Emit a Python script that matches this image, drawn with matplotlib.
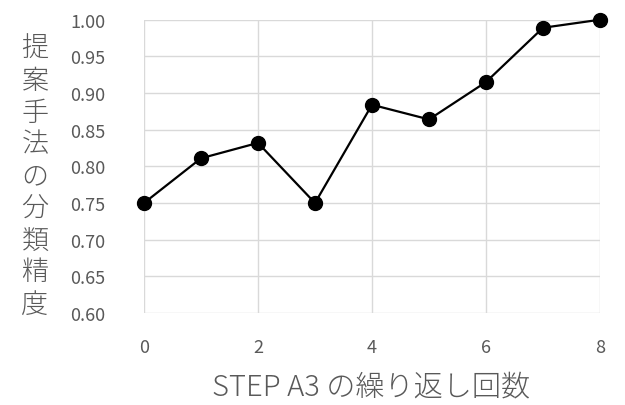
import numpy as np
import matplotlib
matplotlib.use('Agg')
import matplotlib.pyplot as plt

plt.rcParams['font.family'] = ['Noto Sans CJK JP', 'DejaVu Sans']

# data
iterations = [0, 1, 2, 3, 4, 5, 6, 7, 8]
accuracy = [0.750, 0.811, 0.832, 0.750, 0.884, 0.864, 0.915, 0.989, 1.000]
x_ticks = [0, 2, 4, 6, 8]
y_ticks = [0.60, 0.65, 0.70, 0.75, 0.80, 0.85, 0.90, 0.95, 1.00]

xlabel = 'STEP A3 の繰り返し回数'
ylabel = '提案手法の分類精度'

grey_text = '#595959'
grid_col = '#d9d9d9'

fig = plt.figure(figsize=(6.25, 4.06), dpi=100)
ax = fig.add_axes([0.2304, 0.2266, 0.7296, 0.7224])

ax.plot(iterations, accuracy, color='black', linewidth=1.6, marker='o',
        markersize=10, clip_on=False, zorder=3)

ax.set_xlim(0, 8)
ax.set_ylim(0.60, 1.00)
ax.set_xticks(x_ticks)
ax.set_yticks(y_ticks)
ax.set_xticklabels([str(t) for t in x_ticks])
ax.set_yticklabels(['%.2f' % t for t in y_ticks])

ax.grid(True, color=grid_col, linewidth=1.0)
ax.set_axisbelow(True)
for s in ax.spines.values():
    s.set_visible(False)

ax.tick_params(length=0, labelsize=13, labelcolor=grey_text)
ax.tick_params(axis='y', pad=28)
ax.tick_params(axis='x', pad=18)

# vertical stacked y label
fig.text(0.056, 0.565, '\n'.join(ylabel), ha='center', va='center',
         fontsize=19.5, color=grey_text, linespacing=1.18, fontweight='light')

fig.text(0.594, 0.047, xlabel, ha='center', va='center',
         fontsize=21, color=grey_text, fontweight='light')

fig.savefig('out.png', dpi=100)
